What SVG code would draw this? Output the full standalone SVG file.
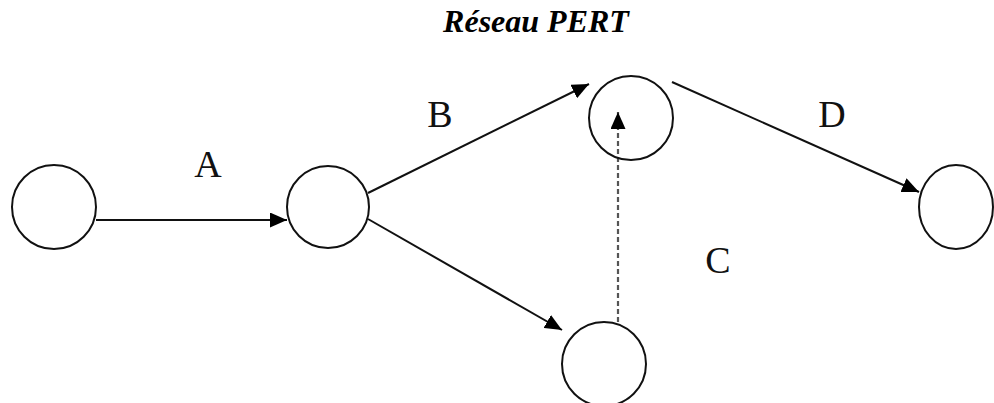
<svg xmlns="http://www.w3.org/2000/svg" width="994" height="403" viewBox="0 0 994 403">
<style>
.node{fill:#fff;stroke:#111;stroke-width:2}
.edge{stroke:#111;stroke-width:2;fill:none}
.dash{stroke:#555;stroke-width:2.2;fill:none;stroke-dasharray:5 3}
.lbl{font-family:"Liberation Serif","Times New Roman",serif;font-size:38px;fill:#111;text-anchor:middle}
.title{font-family:"Liberation Serif","Times New Roman",serif;font-size:32px;font-weight:bold;font-style:italic;fill:#000;text-anchor:middle}
</style>
<defs>
<marker id="arr" markerUnits="userSpaceOnUse" markerWidth="17" markerHeight="15" refX="17" refY="7.5" orient="auto">
<path d="M0,0 L17,7.5 L0,15 z" fill="#000"/>
</marker>
</defs>
<rect width="994" height="403" fill="#fff"/>
<text class="title" x="536" y="32">Réseau PERT</text>
<g id="connectors">
<line class="edge" x1="96" y1="220" x2="287" y2="220" marker-end="url(#arr)"/>
<line class="edge" x1="368" y1="193" x2="589" y2="84" marker-end="url(#arr)"/>
<line class="edge" x1="368" y1="219" x2="562" y2="330" marker-end="url(#arr)"/>
<line class="edge" x1="672" y1="82" x2="919" y2="192" marker-end="url(#arr)"/>
<line class="dash" x1="618" y1="330" x2="618" y2="112" marker-end="url(#arr)"/>
<text class="lbl" x="208" y="177">A</text>
<text class="lbl" x="440" y="127">B</text>
<text class="lbl" x="718" y="273">C</text>
<text class="lbl" x="832" y="127">D</text>
</g>
<g id="n1"><circle class="node" cx="54" cy="207" r="42"/></g>
<g id="n2"><circle class="node" cx="328" cy="207" r="41"/></g>
<g id="n3"><circle class="node" cx="631" cy="118" r="42" style="fill:none"/></g>
<g id="n4"><circle class="node" cx="604" cy="364" r="42"/></g>
<g id="n5"><ellipse class="node" cx="956" cy="207" rx="37" ry="42"/></g>
</svg>
